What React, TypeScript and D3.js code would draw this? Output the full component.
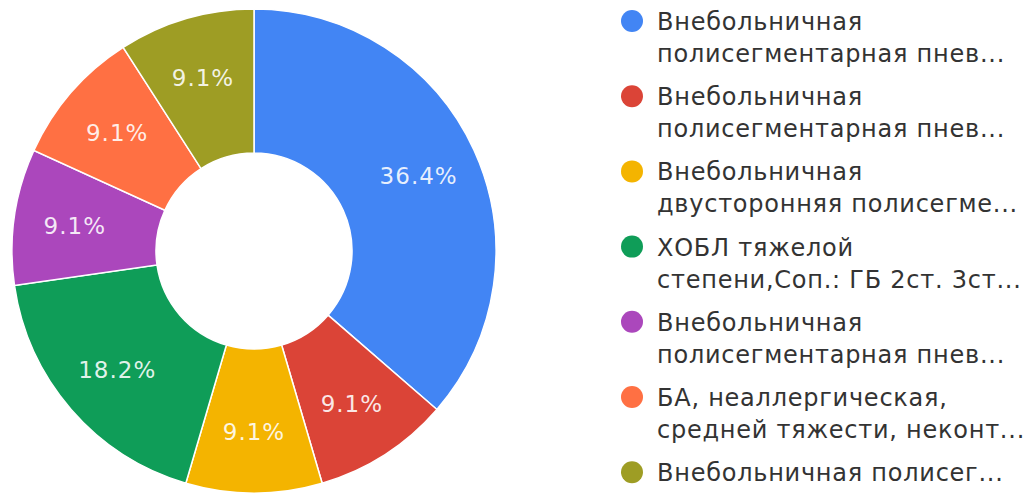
import { useRef, useEffect } from "react";
import * as d3 from "d3";

const categories = [
  ["Внебольничная", "полисегментарная пнев..."],
  ["Внебольничная", "полисегментарная пнев..."],
  ["Внебольничная", "двусторонняя полисегме..."],
  ["ХОБЛ тяжелой", "степени,Соп.: ГБ 2ст. 3ст..."],
  ["Внебольничная", "полисегментарная пнев..."],
  ["БА, неаллергическая,", "средней тяжести, неконт..."],
  ["Внебольничная полисег..."],
];
const counts = [4, 1, 1, 2, 1, 1, 1];
const colors = ["#4285f4", "#db4437", "#f4b400", "#0f9d58", "#ab47bc", "#ff7043", "#9e9d24"];

export default function App() {
  const ref = useRef<SVGSVGElement | null>(null);

  useEffect(() => {
    if (!ref.current) return;
    document.body.style.margin = "0";
    const svg = d3.select(ref.current);
    svg.selectAll("*").remove();

    const W = 1030, H = 493;
    svg.append("rect").attr("width", W).attr("height", H).attr("fill", "#fff");

    const cx = 254, cy = 251, rOut = 242, rIn = 98;
    const total = d3.sum(counts);
    const pie = d3.pie<number>().sort(null).value(d => d);
    const arcs = pie(counts);
    const arc = d3.arc<d3.PieArcDatum<number>>().innerRadius(rIn).outerRadius(rOut);
    const labelArc = d3.arc<d3.PieArcDatum<number>>().innerRadius(181).outerRadius(181);

    const g = svg.append("g").attr("transform", `translate(${cx},${cy})`);
    g.selectAll("path.slice")
      .data(arcs)
      .join("path")
      .attr("class", "slice")
      .attr("d", arc as any)
      .attr("fill", (_d, i) => colors[i])
      .attr("stroke", "#fff")
      .attr("stroke-width", 1.5);

    g.selectAll("text.lbl")
      .data(arcs)
      .join("text")
      .attr("class", "lbl")
      .attr("transform", d => `translate(${labelArc.centroid(d)})`)
      .attr("text-anchor", "middle")
      .attr("dy", "0.36em")
      .attr("font-family", "DejaVu Sans")
      .attr("font-size", 23)
      .attr("letter-spacing", 1)
      .attr("fill", "#fff")
      .attr("fill-opacity", 0.88)
      .text(d => ((d.value / total) * 100).toFixed(1) + "%");

    // legend
    const lg = svg.append("g").attr("transform", "translate(632,21)");
    const step = 75.2;
    categories.forEach((lines, i) => {
      const item = lg.append("g").attr("transform", `translate(0,${i * step})`);
      item.append("circle").attr("r", 11).attr("fill", colors[i]);
      lines.forEach((t, j) => {
        item.append("text")
          .attr("x", 25)
          .attr("y", 9 + j * 32)
          .attr("font-family", "DejaVu Sans")
          .attr("font-size", 24)
          .attr("letter-spacing", 0.75)
          .attr("fill", "#333")
          .text(t);
      });
    });
  }, []);

  return <svg ref={ref} width={1030} height={493} style={{ display: "block" }} />;
}
